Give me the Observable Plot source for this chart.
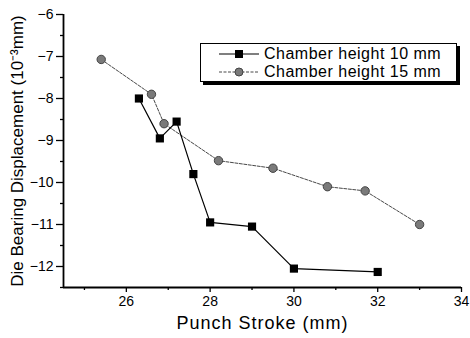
<!DOCTYPE html>
<html>
<head>
<meta charset="utf-8">
<script src="https://cdn.jsdelivr.net/npm/d3@7"></script>
<script src="https://cdn.jsdelivr.net/npm/@observablehq/plot@0.6"></script>
<style>
  body { margin: 0; background: #fff; }
  #wrap { position: relative; width: 470px; height: 338px; font-family: "Liberation Sans", Arial, sans-serif; }
  #legend { position: absolute; left: 200px; top: 43px; width: 255px; height: 37px; border: 1px solid #000; background: #fff; box-shadow: 3px 3px 0 #000; }
  .row { position: absolute; left: 17px; height: 18px; display: flex; align-items: center; font-size: 16px; letter-spacing: 0.5px; color: #000; }
  .row svg { margin-right: 4px; }
</style>
</head>
<body>
<div id="wrap"></div>
<script>
const series = ["Chamber height 10 mm", "Chamber height 15 mm"];
const stroke10 = [26.3, 26.8, 27.2, 27.6, 28.0, 29.0, 30.0, 32.0];
const disp10 = [-8.0, -8.95, -8.55, -9.8, -10.95, -11.05, -12.05, -12.13];
const stroke15 = [25.4, 26.6, 26.9, 28.2, 29.5, 30.8, 31.7, 33.0];
const disp15 = [-7.07, -7.9, -8.6, -9.48, -9.66, -10.1, -10.2, -11.0];
const xTicks = [26, 28, 30, 32, 34];
const xMinor = [25, 27, 29, 31, 33];
const yTicks = [-6, -7, -8, -9, -10, -11, -12];
const yMinor = [-6.5, -7.5, -8.5, -9.5, -10.5, -11.5, -12.5];
const xLabel = "Punch Stroke (mm)";
const yLabel = "Die Bearing Displacement (10\u207B\u00B3mm)";

const d10 = stroke10.map((s, i) => ({x: s, y: disp10[i]}));
const d15 = stroke15.map((s, i) => ({x: s, y: disp15[i]}));
const fmt = d => String(d).replace("-", "\u2212");

const chart = Plot.plot({
  width: 470,
  height: 338,
  marginLeft: 63,
  marginRight: 9,
  marginTop: 14,
  marginBottom: 51,
  style: {fontFamily: "'Liberation Sans', Arial, sans-serif", background: "#fff", color: "#000"},
  x: {domain: [24.5, 34]},
  y: {domain: [-12.5, -6]},
  marks: [
    Plot.axisX({ticks: xTicks, tickSize: 5, tickPadding: 4, fontSize: 14, label: null, strokeWidth: 1.3, tickFormat: fmt}),
    Plot.axisX({ticks: xMinor, tickSize: 3, text: null, label: null, strokeWidth: 1.3}),
    Plot.axisY({ticks: yTicks, tickSize: 7, tickPadding: 3, fontSize: 14, label: null, strokeWidth: 1.3, tickFormat: fmt}),
    Plot.axisY({ticks: yMinor, tickSize: 3, text: null, label: null, strokeWidth: 1.3}),
    Plot.ruleX([24.5], {y1: -12.5, y2: -6, strokeWidth: 1.8}),
    Plot.ruleY([-12.5], {x1: 24.5, x2: 34, strokeWidth: 1.8}),
    Plot.line(d15, {x: "x", y: "y", stroke: "#333", strokeWidth: 0.9, strokeDasharray: "3,1.5"}),
    Plot.line(d10, {x: "x", y: "y", stroke: "#000", strokeWidth: 1.2}),
    Plot.dot(d15, {x: "x", y: "y", r: 4.2, fill: "#7a7a7a", stroke: "#444", strokeWidth: 1}),
    Plot.dot(d10, {x: "x", y: "y", symbol: "square", r: 4.6, fill: "#000", stroke: "none"}),
    Plot.text([xLabel], {frameAnchor: "bottom", dy: 29, fontSize: 18, lineAnchor: "top", textAnchor: "middle"}),
    Plot.text([yLabel], {frameAnchor: "left", dx: -46, rotate: -90, fontSize: 17, textAnchor: "middle"})
  ]
});

d3.select(chart).selectAll("text").filter(function() { return this.textContent === xLabel; })
  .attr("letter-spacing", "1px");

const wrap = document.getElementById("wrap");
wrap.appendChild(chart);

const legend = document.createElement("div");
legend.id = "legend";
const sym10 = '<svg width="42" height="12"><line x1="1" y1="6" x2="41" y2="6" stroke="#000" stroke-width="1.2"/><rect x="17" y="2" width="8" height="8" fill="#000"/></svg>';
const sym15 = '<svg width="42" height="12"><line x1="1" y1="6" x2="41" y2="6" stroke="#333" stroke-width="0.9" stroke-dasharray="3,1.5"/><circle cx="21" cy="6" r="4" fill="#7a7a7a" stroke="#444"/></svg>';
legend.innerHTML =
  '<div class="row" style="top:1px">' + sym10 + '<span>' + series[0] + '</span></div>' +
  '<div class="row" style="top:19px">' + sym15 + '<span>' + series[1] + '</span></div>';
wrap.appendChild(legend);
</script>
</body>
</html>
